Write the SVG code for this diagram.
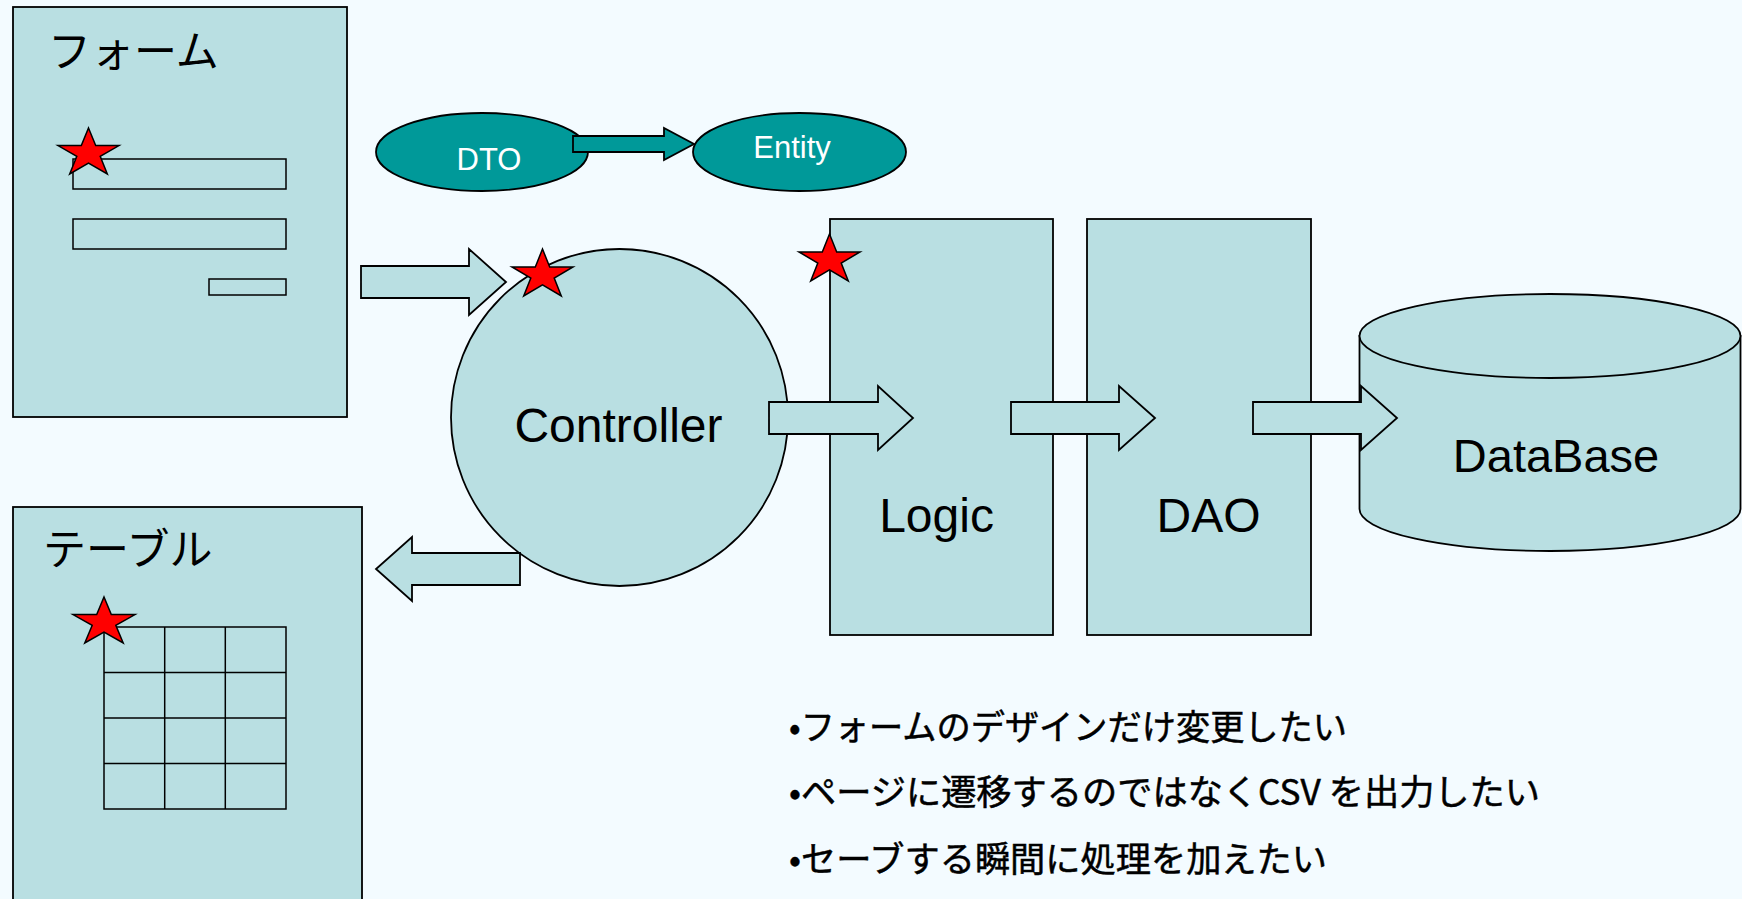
<svg xmlns="http://www.w3.org/2000/svg" width="1742" height="899" viewBox="0 0 1742 899">
<style>
.box{fill:#B9DFE2;stroke:#000;stroke-width:1.8}
.thin{fill:#B9DFE2;stroke:#000;stroke-width:1.5}
.teal{fill:#009999;stroke:#000;stroke-width:1.8}
.star{fill:#FF0000;stroke:#000;stroke-width:1.5;stroke-linejoin:miter}
.grid{stroke:#000;stroke-width:1.5;fill:none}
.en{font-family:"Liberation Sans",Arial,sans-serif;fill:#000}
.jp{font-family:"Noto Sans CJK JP","Liberation Sans",sans-serif;fill:#000}
.note{stroke:#000;stroke-width:0.5}
.wt{font-family:"Liberation Sans",Arial,sans-serif;fill:#fff;font-size:31px;text-anchor:middle}
.big{font-size:48px;text-anchor:middle}
</style>
<rect x="0" y="0" width="1742" height="899" fill="#F3FBFF"/>

<g id="form">
<rect class="box" x="13" y="7" width="334" height="410"/>
<text class="jp" x="48" y="67" font-size="43">フォーム</text>
<rect class="thin" x="73" y="159" width="213" height="30"/>
<rect class="thin" x="73" y="219" width="213" height="30"/>
<rect class="thin" x="209" y="279" width="77" height="16"/>
</g>

<g id="table">
<rect class="box" x="13" y="507" width="349" height="400"/>
<text class="jp" x="43" y="565" font-size="43">テーブル</text>
<g class="grid">
<rect x="104" y="627" width="182" height="182" fill="#B9DFE2"/>
<line x1="164.7" y1="627" x2="164.7" y2="809"/>
<line x1="225.3" y1="627" x2="225.3" y2="809"/>
<line x1="104" y1="672.5" x2="286" y2="672.5"/>
<line x1="104" y1="718" x2="286" y2="718"/>
<line x1="104" y1="763.5" x2="286" y2="763.5"/>
</g>
</g>

<g id="dto">
<ellipse class="teal" cx="482" cy="152" rx="106" ry="39"/>
<text class="wt" x="489" y="170">DTO</text>
</g>

<g id="entity">
<ellipse class="teal" cx="799.5" cy="152" rx="106.5" ry="39"/>
<text class="wt" x="792" y="158">Entity</text>
</g>

<g id="controller">
<circle class="box" cx="619.5" cy="417.5" r="168.5"/>
<text class="en big" x="618.5" y="442">Controller</text>
</g>

<g id="logic">
<rect class="box" x="830" y="219" width="223" height="416"/>
<text class="en big" x="936.5" y="532">Logic</text>
</g>

<g id="dao">
<rect class="box" x="1087" y="219" width="224" height="416"/>
<text class="en big" x="1208.5" y="532">DAO</text>
</g>

<g id="database">
<path class="box" d="M1359.5,336 L1359.5,509 A190.5,42 0 0 0 1740.5,509 L1740.5,336 Z"/>
<ellipse class="box" cx="1550" cy="336" rx="190.5" ry="42"/>
<text class="en" x="1556" y="472" font-size="47" text-anchor="middle">DataBase</text>
</g>

<g id="connectors">
<path class="teal" d="M573,136 L664,136 L664,128 L694,144 L664,160 L664,152 L573,152 Z"/>
<path class="box" d="M361,266 L469,266 L469,249 L506,282 L469,315 L469,298 L361,298 Z"/>
<path class="box" d="M769,402 L878,402 L878,386 L913,418 L878,450 L878,434 L769,434 Z"/>
<path class="box" d="M1011,402 L1119,402 L1119,386 L1155,418 L1119,450 L1119,434 L1011,434 Z"/>
<path class="box" d="M1253,402 L1361,402 L1361,386 L1397,418 L1361,450 L1361,434 L1253,434 Z"/>
<path class="box" d="M520,553 L412,553 L412,537 L376,569 L412,601 L412,585 L520,585 Z"/>
</g>

<g id="stars">
<polygon class="star" points="88.5,128 95.7,145.6 119,145.6 100.2,156.4 107.3,174 88.5,163.1 69.7,174 76.8,156.4 58,145.6 81.3,145.6"/>
<polygon class="star" points="542.5,249 549.7,267 573,267 554.2,278 561.3,296 542.5,284.9 523.7,296 530.8,278 512,267 535.3,267"/>
<polygon class="star" points="829.5,234 836.7,252 860,252 841.2,263 848.3,281 829.5,269.9 810.7,281 817.8,263 799,252 822.3,252"/>
<polygon class="star" points="104,597 111.3,614.6 135,614.6 115.8,625.4 123.2,643 104,632.1 84.8,643 92.2,625.4 73,614.6 96.7,614.6"/>
</g>

<g id="notes" class="jp note" font-size="35">
<text x="789" y="740" textLength="558" lengthAdjust="spacingAndGlyphs">•フォームのデザインだけ変更したい</text>
<text x="789" y="805" textLength="751" lengthAdjust="spacingAndGlyphs">•ページに遷移するのではなくCSV を出力したい</text>
<text x="789" y="872" textLength="538" lengthAdjust="spacingAndGlyphs">•セーブする瞬間に処理を加えたい</text>
</g>
</svg>
